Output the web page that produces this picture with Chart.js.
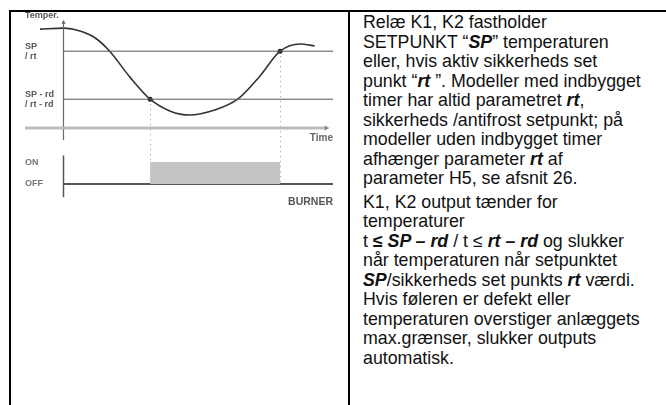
<!DOCTYPE html>
<html>
<head>
<meta charset="utf-8">
<script src="https://cdn.jsdelivr.net/npm/chart.js@4"></script>
<style>
body{margin:0;background:#fff;width:666px;height:405px;overflow:hidden;position:relative;font-family:"Liberation Sans",Arial,sans-serif}
.ln{position:absolute;background:#000}
#wrap{position:absolute;left:0;top:0;width:346px;height:230px}
#txt{position:absolute;left:363px;top:13px;width:303px;font-size:17.8px;line-height:19.5px;color:#111;white-space:nowrap}
#txt p{margin:0}
#txt p+p{margin-top:4px}
</style>
</head>
<body>
<div class="ln" style="left:9px;top:10px;width:657px;height:2px"></div>
<div class="ln" style="left:9px;top:10px;width:2px;height:395px"></div>
<div class="ln" style="left:348px;top:10px;width:2px;height:395px"></div>
<div id="wrap"><canvas id="diagram"></canvas></div>
<div id="txt">
<p>Relæ K1, K2 fastholder<br>SETPUNKT “<b><i>SP</i></b>” temperaturen<br>eller, hvis aktiv sikkerheds set<br>punkt “<b><i>rt</i></b> ”. Modeller med indbygget<br>timer har altid parametret <b><i>rt</i></b>,<br>sikkerheds /antifrost setpunkt; på<br>modeller uden indbygget timer<br>afhænger parameter <b><i>rt</i></b> af<br>parameter H5, se afsnit 26.</p>
<p>K1, K2 output tænder for<br>temperaturer<br>t <b>≤ <i>SP – rd</i></b> / t ≤ <b><i>rt – rd</i></b> og slukker<br>når temperaturen når setpunktet<br><b><i>SP</i></b>/sikkerheds set punkts <b><i>rt</i></b> værdi.<br>Hvis føleren er defekt eller<br>temperaturen overstiger anlæggets<br>max.grænser, slukker outputs<br>automatisk.</p>
</div>
<script>
// temperature curve
const times = [-2.44, 0, 1.7, 3.3, 4.8, 6.9, 9, 11.1, 13.1, 15.7, 18.1, 20.4, 22.5, 24.6, 26.1]
const temps = [20.6, 20.8, 20.2, 18.75, 16, 10.6, 6, 3.5, 2.7, 3.75, 6, 10.8, 16, 17.5, 17.1]

const spLevel = 16
const spRdLevel = 6
const switchTimes = [9, 22.5]
const switchTemps = [6, 16]

const burnerTimes = [0, 9, 22.5, 28]
const burnerState = [0, 1, 0, 0]

const labels = [['SP', '/ rt'], ['SP - rd', '/ rt - rd']]

const pts = (xs, ys) => xs.map((x, i) => ({x: x, y: ys[i]}))

const labelPlugin = {
  id: 'labels',
  beforeDatasetsDraw(chart) {
    const c = chart.ctx, x = chart.scales.x, y = chart.scales.y, yb = chart.scales.yb
    c.save()
    c.strokeStyle = '#999'
    c.lineWidth = 1
    c.setLineDash([1, 4])
    switchTimes.forEach((t, i) => {
      const px = Math.round(x.getPixelForValue(t)) + 0.5
      c.beginPath()
      c.moveTo(px, y.getPixelForValue(switchTemps[i]))
      c.lineTo(px, yb.getPixelForValue(0))
      c.stroke()
    })
    c.restore()
  },
  afterDraw(chart) {
    const c = chart.ctx, x = chart.scales.x, y = chart.scales.y, yb = chart.scales.yb
    const left = chart.chartArea.left, right = chart.chartArea.right
    c.save()
    c.fillStyle = '#555'
    c.textBaseline = 'middle'
    c.font = 'bold 9px "Liberation Sans", Arial'
    c.textAlign = 'left'
    c.fillText('Temper.', left, 16)
    ;[spLevel, spRdLevel].forEach((v, i) => {
      const py = y.getPixelForValue(v)
      c.fillText(labels[i][0], left, py - 5)
      c.fillText(labels[i][1], left, py + 5)
    })
    c.fillStyle = '#777'
    c.fillText('ON', left, yb.getPixelForValue(1) + 1)
    c.fillText('OFF', left, yb.getPixelForValue(0))
    c.textAlign = 'right'
    c.fillStyle = '#666'
    c.font = 'bold 10px "Liberation Sans", Arial'
    c.fillText('Time', right, y.getPixelForValue(0) + 10)
    c.fillStyle = '#555'
    c.font = 'bold 10.5px "Liberation Sans", Arial'
    c.fillText('BURNER', right, yb.getPixelForValue(0) + 18)
    c.restore()
  }
}

new Chart(document.getElementById('diagram'), {
  type: 'line',
  data: {
    datasets: [
      {
        // burner on period
        data: pts(burnerTimes, burnerState),
        yAxisID: 'yb',
        stepped: 'before',
        fill: 'origin',
        backgroundColor: '#c4c4c4',
        borderWidth: 0,
        pointRadius: 0
      },
      {
        data: pts([0, 28], [0, 0]),
        yAxisID: 'yb',
        borderColor: '#555',
        borderWidth: 2,
        pointRadius: 0
      },
      {
        data: pts([0, 0], [-0.6, 1.3]),
        yAxisID: 'yb',
        borderColor: '#555',
        borderWidth: 1.5,
        pointRadius: 0
      },
      {
        // time axis
        data: pts([-4, 27.3], [0, 0]),
        yAxisID: 'y',
        borderColor: '#bbb',
        borderWidth: 3,
        pointStyle: 'triangle',
        rotation: 90,
        pointRadius: ctx => ctx.dataIndex == 1 ? 3 : 0,
        pointBackgroundColor: '#888',
        pointBorderWidth: 0
      },
      {
        // temperature axis
        data: pts([0, 0], [-2.5, 22]),
        yAxisID: 'y',
        borderColor: '#666',
        borderWidth: 1.2,
        pointStyle: 'triangle',
        pointRadius: ctx => ctx.dataIndex == 1 ? 2.5 : 0,
        pointBackgroundColor: '#666',
        pointBorderWidth: 0
      },
      {
        data: pts([0, 28], [spLevel, spLevel]),
        yAxisID: 'y',
        borderColor: '#555',
        borderWidth: 1,
        pointRadius: 0
      },
      {
        data: pts([0, 28], [spRdLevel, spRdLevel]),
        yAxisID: 'y',
        borderColor: '#555',
        borderWidth: 1,
        pointRadius: 0
      },
      {
        data: pts(times, temps),
        yAxisID: 'y',
        borderColor: '#333',
        borderWidth: 1.6,
        cubicInterpolationMode: 'monotone',
        pointRadius: 0
      },
      {
        data: pts(switchTimes, switchTemps),
        yAxisID: 'y',
        showLine: false,
        pointRadius: 2.5,
        pointBackgroundColor: '#222',
        pointBorderWidth: 0
      }
    ]
  },
  options: {
    responsive: true,
    maintainAspectRatio: false,
    animation: false,
    layout: {padding: {left: 25, right: 13, top: 20, bottom: 25}},
    plugins: {legend: {display: false}, tooltip: {enabled: false}},
    scales: {
      x: {type: 'linear', min: -4, max: 28, display: false},
      y: {min: -16.04, max: 22.5, display: false},
      yb: {min: -0.9545, max: 7.4545, display: false}
    }
  },
  plugins: [labelPlugin]
})
</script>
</body>
</html>
